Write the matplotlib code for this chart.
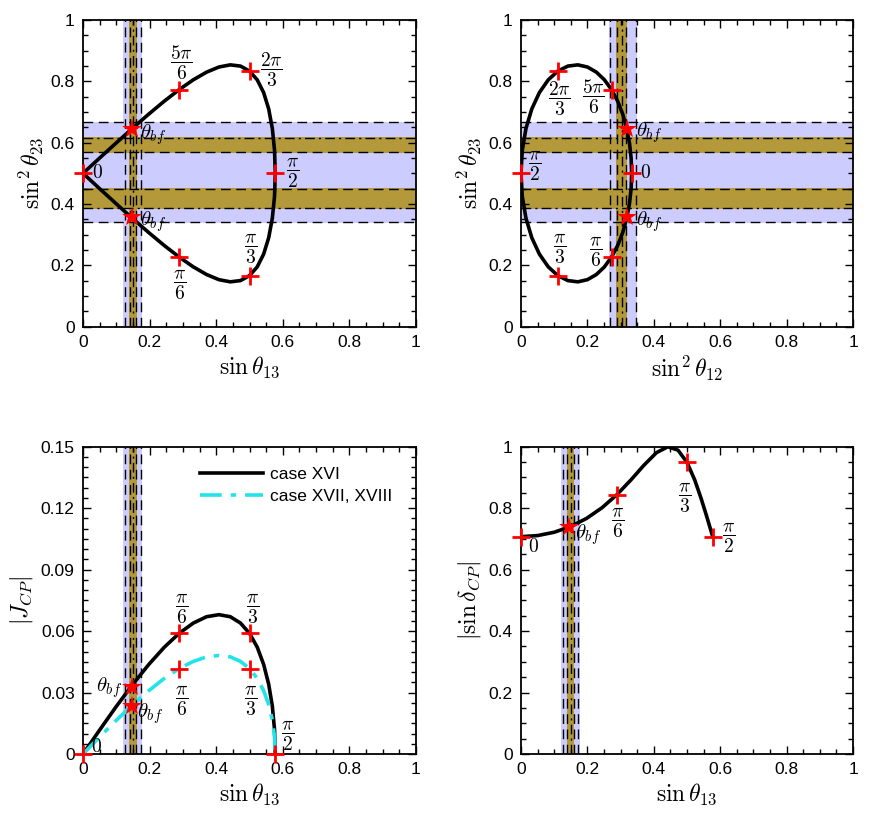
import matplotlib
matplotlib.use("Agg")
import matplotlib.pyplot as plt
from matplotlib.ticker import MultipleLocator, FuncFormatter
from matplotlib.lines import Line2D

plt.rcParams['font.family'] = ['Liberation Sans', 'DejaVu Sans']
plt.rcParams['mathtext.fontset'] = 'cm'

# ---------------- data ----------------
# parameter theta from 0 to pi (closed loops, top panels)
sin_t13_loop = [0, 0.0503, 0.1003, 0.1494, 0.1975, 0.2440, 0.2887, 0.3312, 0.3711, 0.4082,
                0.4423, 0.4729, 0.5000, 0.5233, 0.5425, 0.5577, 0.5686, 0.5752, 0.5774, 0.5752,
                0.5686, 0.5577, 0.5425, 0.5233, 0.5000, 0.4729, 0.4423, 0.4082, 0.3711, 0.3312,
                0.2887, 0.2440, 0.1975, 0.1494, 0.1003, 0.0503, 0]
sin2_t23_loop = [0.5000, 0.4497, 0.4003, 0.3524, 0.3069, 0.2649, 0.2273, 0.1953, 0.1703, 0.1536,
                 0.1466, 0.1506, 0.1667, 0.1955, 0.2370, 0.2905, 0.3541, 0.4251, 0.5000, 0.5749,
                 0.6459, 0.7095, 0.7630, 0.8045, 0.8333, 0.8494, 0.8534, 0.8464, 0.8297, 0.8047,
                 0.7727, 0.7351, 0.6931, 0.6476, 0.5997, 0.5503, 0.5000]
sin2_t12_loop = [0.3333, 0.3316, 0.3266, 0.3181, 0.3063, 0.2911, 0.2727, 0.2512, 0.2269, 0.2000,
                 0.1712, 0.1413, 0.1111, 0.0820, 0.0553, 0.0324, 0.0149, 0.0038, 0, 0.0038,
                 0.0149, 0.0324, 0.0553, 0.0820, 0.1111, 0.1413, 0.1712, 0.2000, 0.2269, 0.2512,
                 0.2727, 0.2911, 0.3063, 0.3181, 0.3266, 0.3316, 0.3333]

# parameter theta from 0 to pi/2 (bottom panels)
sin_t13_half = [0, 0.0503, 0.1003, 0.1494, 0.1975, 0.2440, 0.2887, 0.3312, 0.3711, 0.4082,
                0.4423, 0.4729, 0.5000, 0.5233, 0.5425, 0.5577, 0.5686, 0.5752, 0.5774]
jcp_xvi = [0, 0.0118, 0.0233, 0.0340, 0.0437, 0.0521, 0.0589, 0.0639, 0.0670, 0.0680,
           0.0670, 0.0639, 0.0589, 0.0521, 0.0437, 0.0340, 0.0233, 0.0118, 0]
jcp_xvii = [0, 0.0084, 0.0165, 0.0241, 0.0309, 0.0369, 0.0417, 0.0452, 0.0474, 0.0481,
            0.0474, 0.0452, 0.0417, 0.0369, 0.0309, 0.0241, 0.0165, 0.0084, 0]
sin_dcp = [0.7071, 0.7107, 0.7216, 0.7401, 0.7666, 0.8012, 0.8437, 0.8918, 0.9406, 0.9806,
           0.9996, 0.9886, 0.9487, 0.8915, 0.8314, 0.7788, 0.7393, 0.7152, 0.7071]

# special points (red crosses) and best-fit points (stars)
p1_plus_x = [0, 0.2887, 0.5, 0.5774, 0.5, 0.2887]
p1_plus_y = [0.5, 0.2273, 0.1667, 0.5, 0.8333, 0.7727]
p1_star_x = [0.148, 0.148]
p1_star_y = [0.357, 0.643]
p2_plus_x = [0.3333, 0.2727, 0.1111, 0, 0.1111, 0.2727]
p2_plus_y = [0.5, 0.2273, 0.1667, 0.5, 0.8333, 0.7727]
p2_star_x = [0.319, 0.319]
p2_star_y = [0.357, 0.643]
p3_plus_x = [0, 0.2887, 0.5, 0.5774, 0.2887, 0.5]
p3_plus_y = [0, 0.0589, 0.0589, 0, 0.0417, 0.0417]
p3_star_x = [0.148, 0.148]
p3_star_y = [0.0329, 0.0233]
p4_plus_x = [0, 0.2887, 0.5, 0.5774]
p4_plus_y = [0.7071, 0.8437, 0.9487, 0.7071]
p4_star_x = [0.145]
p4_star_y = [0.737]

# point labels
p1_labels = [(r"$0$", 0.043, 0.5), (r"$\dfrac{\pi}{6}$", 0.291, 0.136), (r"$\dfrac{\pi}{3}$", 0.503, 0.255),
             (r"$\dfrac{\pi}{2}$", 0.629, 0.5), (r"$\dfrac{2\pi}{3}$", 0.566, 0.837),
             (r"$\dfrac{5\pi}{6}$", 0.296, 0.859)]
p1_bf = [(0.172, 0.625), (0.172, 0.343)]
p2_labels = [(r"$0$", 0.376, 0.5), (r"$\dfrac{\pi}{6}$", 0.223, 0.245), (r"$\dfrac{\pi}{3}$", 0.117, 0.255),
             (r"$\dfrac{\pi}{2}$", 0.042, 0.524), (r"$\dfrac{2\pi}{3}$", 0.117, 0.741),
             (r"$\dfrac{5\pi}{6}$", 0.218, 0.750)]
p2_bf = [(0.345, 0.632), (0.345, 0.343)]
p3_labels = [(r"$0$", 0.04, 0.0035), (r"$\dfrac{\pi}{6}$", 0.296, 0.0709), (r"$\dfrac{\pi}{3}$", 0.508, 0.0709),
             (r"$\dfrac{\pi}{6}$", 0.296, 0.0261), (r"$\dfrac{\pi}{3}$", 0.503, 0.0261),
             (r"$\dfrac{\pi}{2}$", 0.613, 0.0090)]
p3_bf = [(0.078, 0.0326, 'center'), (0.200, 0.0196, 'center')]
p4_labels = [(r"$0$", 0.037, 0.675), (r"$\dfrac{\pi}{6}$", 0.29, 0.751), (r"$\dfrac{\pi}{3}$", 0.493, 0.832),
             (r"$\dfrac{\pi}{2}$", 0.624, 0.702)]
p4_bf = [(0.203, 0.713, 'center')]

# experimental ranges
t13_blue = (0.121, 0.177)
t13_gold = (0.139, 0.161)
t13_dashed = [0.126, 0.140, 0.160, 0.173]
t13_dashdot = [0.150]
t12_blue = (0.265, 0.348)
t12_gold = (0.286, 0.318)
t12_dashed = [0.269, 0.288, 0.316, 0.345]
t12_dashdot = [0.304]
t23_blue = (0.339, 0.668)
t23_gold = [(0.567, 0.620), (0.383, 0.451)]
t23_dashed = [0.668, 0.571, 0.449, 0.342]
t23_dashdot = [0.616, 0.386]

BLUE = '#ccccff'
GOLD = '#b3993a'
CYAN = '#22e3e8'

fig = plt.figure(figsize=(8.73, 8.14), dpi=100)
ax1 = fig.add_axes([0.0951, 0.5985, 0.3814, 0.3771])
ax2 = fig.add_axes([0.5968, 0.5985, 0.3803, 0.3771])
ax3 = fig.add_axes([0.0951, 0.0737, 0.3814, 0.3776])
ax4 = fig.add_axes([0.5968, 0.0737, 0.3803, 0.3776])

fmt = FuncFormatter(lambda v, p: ('%g' % round(v, 4)))


def style(ax, ymax, ymaj, ymin):
    ax.set_xlim(0, 1)
    ax.set_ylim(0, ymax)
    ax.xaxis.set_major_locator(MultipleLocator(0.2))
    ax.xaxis.set_minor_locator(MultipleLocator(0.05))
    ax.yaxis.set_major_locator(MultipleLocator(ymaj))
    ax.yaxis.set_minor_locator(MultipleLocator(ymin))
    ax.xaxis.set_major_formatter(fmt)
    ax.yaxis.set_major_formatter(fmt)
    ax.tick_params(which='both', direction='in', top=True, right=True, labelsize=12.5, width=1)
    ax.tick_params(which='major', length=6, pad=6)
    ax.tick_params(which='minor', length=3.5)
    for sp in ax.spines.values():
        sp.set_linewidth(1.3)


def vbands(ax, blue, gold, dashed, dashdot):
    ax.axvspan(*blue, color=BLUE, lw=0, zorder=0.5)
    ax.axvspan(*gold, color=GOLD, lw=0, zorder=0.7)
    for v in dashed:
        ax.axvline(v, color='k', lw=1, ls=(0, (7, 4)), zorder=1)
    for v in dashdot:
        ax.axvline(v, color='k', lw=1, ls=(0, (7, 3, 1.5, 3)), zorder=1)


def hbands(ax):
    ax.axhspan(*t23_blue, color=BLUE, lw=0, zorder=0.5)
    for g in t23_gold:
        ax.axhspan(*g, color=GOLD, lw=0, zorder=0.7)
    for v in t23_dashed:
        ax.axhline(v, color='k', lw=1, ls=(0, (7, 4)), zorder=1)
    for v in t23_dashdot:
        ax.axhline(v, color='k', lw=1, ls=(0, (7, 3, 1.5, 3)), zorder=1)


def marks(ax, px, py, sx, sy):
    ax.plot(px, py, ls='none', marker='+', ms=13, mew=2, color='red', zorder=5, clip_on=False)
    ax.plot(sx, sy, ls='none', marker='*', ms=15, mew=0, color='red', zorder=6)


def labels(ax, labs, bfs, fs=14):
    for t, x, y in labs:
        ax.text(x, y, t, fontsize=fs, ha='center', va='center', zorder=7)
    for b in bfs:
        if len(b) == 3:
            ax.text(b[0], b[1], r"$\theta_{bf}$", fontsize=15, ha='center', va='center', zorder=7)
        else:
            ax.text(b[0], b[1], r"$\theta_{bf}$", fontsize=15, ha='left', va='center', zorder=7)


# panel 1
style(ax1, 1, 0.2, 0.05)
hbands(ax1)
vbands(ax1, t13_blue, t13_gold, t13_dashed, t13_dashdot)
ax1.plot(sin_t13_loop, sin2_t23_loop, color='k', lw=2.6, zorder=3)
marks(ax1, p1_plus_x, p1_plus_y, p1_star_x, p1_star_y)
labels(ax1, p1_labels, p1_bf)
ax1.set_xlabel(r"$\sin\theta_{13}$", fontsize=17, labelpad=3)
ax1.set_ylabel(r"$\sin^2\theta_{23}$", fontsize=17, labelpad=4)

# panel 2
style(ax2, 1, 0.2, 0.05)
hbands(ax2)
vbands(ax2, t12_blue, t12_gold, t12_dashed, t12_dashdot)
ax2.plot(sin2_t12_loop, sin2_t23_loop, color='k', lw=2.6, zorder=3)
marks(ax2, p2_plus_x, p2_plus_y, p2_star_x, p2_star_y)
labels(ax2, p2_labels, p2_bf)
ax2.set_xlabel(r"$\sin^2\theta_{12}$", fontsize=17, labelpad=3)
ax2.set_ylabel(r"$\sin^2\theta_{23}$", fontsize=17, labelpad=4)

# panel 3
style(ax3, 0.15, 0.03, 0.005)
vbands(ax3, t13_blue, t13_gold, t13_dashed, t13_dashdot)
ax3.plot(sin_t13_half, jcp_xvi, color='k', lw=2.6, zorder=3)
ax3.plot(sin_t13_half, jcp_xvii, color=CYAN, lw=2.6, ls=(0, (6, 2.5, 1.5, 2.5)), zorder=3)
marks(ax3, p3_plus_x, p3_plus_y, p3_star_x, p3_star_y)
labels(ax3, p3_labels, p3_bf)
ax3.set_xlabel(r"$\sin\theta_{13}$", fontsize=17, labelpad=3)
ax3.set_ylabel(r"$|J_{CP}|$", fontsize=17, labelpad=4)
handles = [Line2D([], [], color='k', lw=2.6),
           Line2D([], [], color=CYAN, lw=2.6, ls=(0, (6, 2.5, 1.5, 2.5)))]
ax3.legend(handles, ['case XVI', 'case XVII, XVIII'], loc='upper left',
           bbox_to_anchor=(0.305, 0.985), frameon=False, fontsize=12.5,
           handlelength=3.6, handletextpad=0.4, labelspacing=0.4)

# panel 4
style(ax4, 1, 0.2, 0.05)
vbands(ax4, t13_blue, t13_gold, t13_dashed, t13_dashdot)
ax4.plot(sin_t13_half, sin_dcp, color='k', lw=2.6, zorder=3)
marks(ax4, p4_plus_x, p4_plus_y, p4_star_x, p4_star_y)
labels(ax4, p4_labels, p4_bf)
ax4.set_xlabel(r"$\sin\theta_{13}$", fontsize=17, labelpad=3)
ax4.set_ylabel(r"$|\sin\delta_{CP}|$", fontsize=17, labelpad=4)

fig.savefig("out.png", dpi=100)
